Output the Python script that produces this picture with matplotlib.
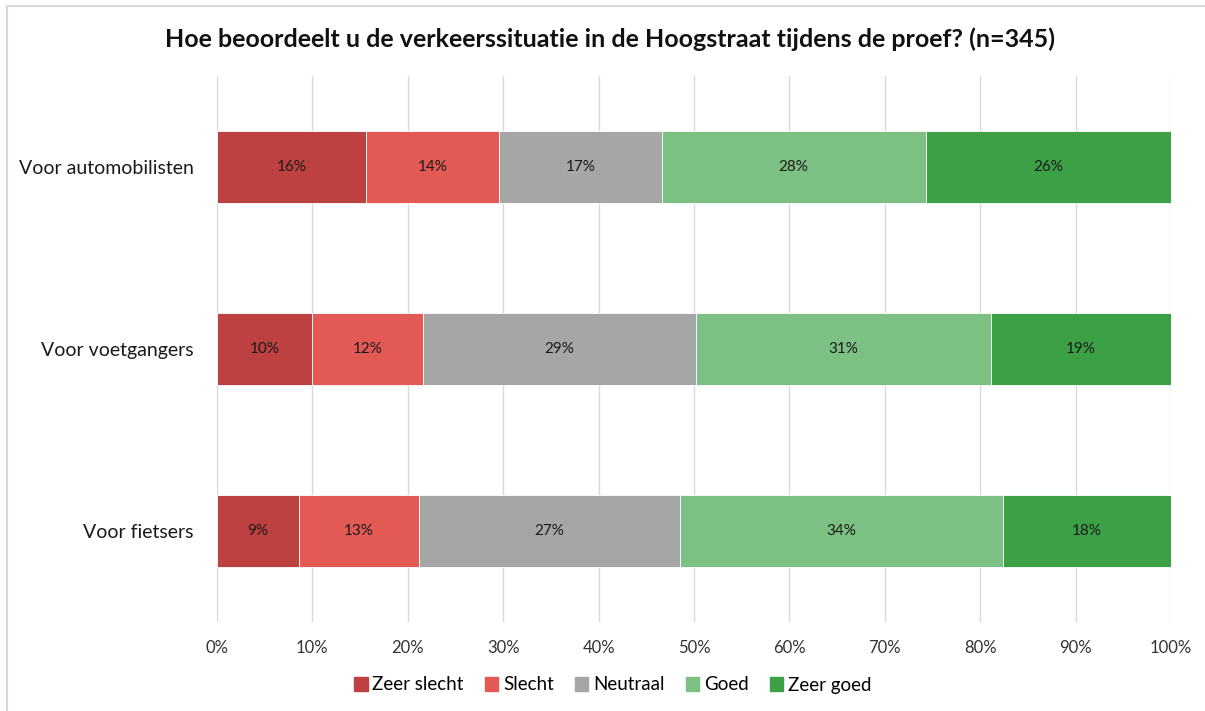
import matplotlib
matplotlib.use("Agg")
import matplotlib.pyplot as plt
from matplotlib.lines import Line2D

plt.rcParams['font.family'] = ['Lato', 'DejaVu Sans']

categories = ["Voor automobilisten", "Voor voetgangers", "Voor fietsers"]
series_names = ["Zeer slecht", "Slecht", "Neutraal", "Goed", "Zeer goed"]
zeer_slecht = [15.6, 10.0, 8.6]
slecht = [14.0, 11.6, 12.6]
neutraal = [17.0, 28.6, 27.3]
goed = [27.7, 30.9, 33.9]
zeer_goed = [25.7, 18.9, 17.6]
tick_labels = ["0%", "10%", "20%", "30%", "40%", "50%", "60%", "70%", "80%", "90%", "100%"]
title = "Hoe beoordeelt u de verkeerssituatie in de Hoogstraat tijdens de proef? (n=345)"

colors = ["#BD4141", "#E35A55", "#A6A6A6", "#7DC083", "#3BA046"]
series = [zeer_slecht, slecht, neutraal, goed, zeer_goed]

W, H = 1205, 711
fig = plt.figure(figsize=(W / 100, H / 100), dpi=100)
ax = fig.add_axes([217 / W, 1 - 622 / H, (1171 - 217) / W, (622 - 76) / H])

ypos = [0, 1, 2]
left = [0.0] * 3
for name, vals, col in zip(series_names, series, colors):
    ax.barh(ypos, vals, left=left, height=0.4, color=col, edgecolor="white",
            linewidth=0.6, label=name, zorder=3)
    for y, v, l in zip(ypos, vals, left):
        ax.text(l + v / 2, y, f"{int(round(v))}%", ha="center", va="center",
                fontsize=11, color="#1a1a1a", zorder=4)
    left = [a + b for a, b in zip(left, vals)]

ax.set_xlim(0, 100)
ax.set_ylim(2.5, -0.5)
ax.set_xticks(range(0, 101, 10))
ax.set_xticklabels(tick_labels, fontsize=12, color="#333333")
ax.set_yticks(ypos)
ax.set_yticklabels(categories, fontsize=14, color="#1a1a1a")
ax.tick_params(axis="x", length=0, pad=13)
ax.tick_params(axis="y", length=0, pad=17)
ax.grid(axis="x", color="#D9D9D9", linewidth=1.0, zorder=0)
for s in ax.spines.values():
    s.set_visible(False)

fig.text(610 / W, 1 - 39 / H, title, ha="center", va="center", fontsize=18,
         fontweight="bold", color="#111111")

handles = [plt.Rectangle((0, 0), 1, 1, color=c) for c in colors]
fig.legend(handles, series_names, loc="center", bbox_to_anchor=(613 / W, 1 - 685 / H),
           ncol=5, frameon=False, fontsize=13.5, handlelength=0.7, handleheight=0.7,
           handletextpad=0.25, columnspacing=1.15)

fig.add_artist(Line2D([7 / W, 1], [1 - 6 / H, 1 - 6 / H], color="#D9D9D9", linewidth=1.5,
                      transform=fig.transFigure))
fig.add_artist(Line2D([7 / W, 7 / W], [0, 1 - 6 / H], color="#D9D9D9", linewidth=1.5,
                      transform=fig.transFigure))

fig.savefig("out.png", dpi=100, facecolor="white")
